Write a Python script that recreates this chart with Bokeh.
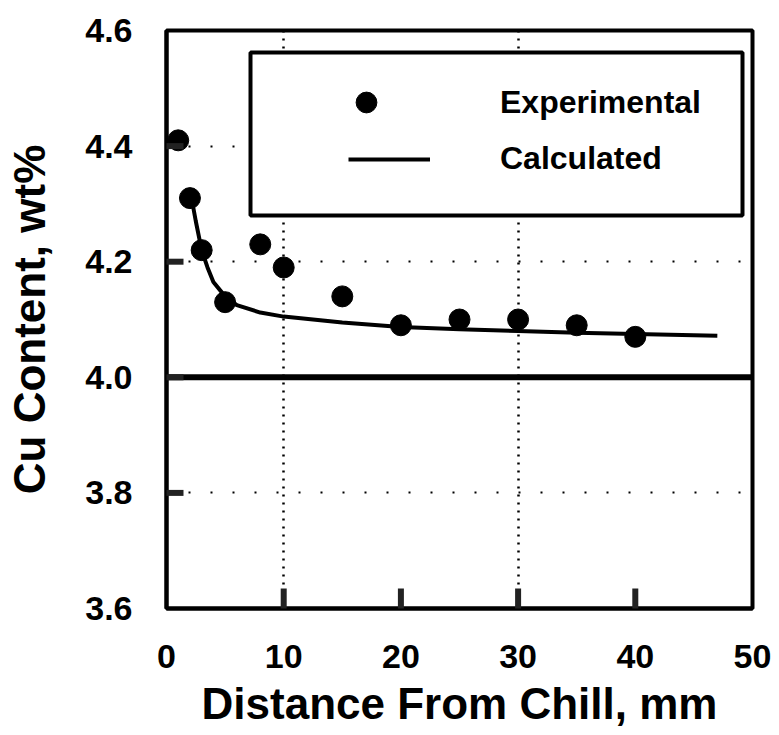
from bokeh.plotting import figure
from bokeh.models import (Range1d, FixedTicker, NumeralTickFormatter, Span, Grid,
                          Legend, LegendItem, BoxAnnotation, ColumnDataSource)
from bokeh.embed import file_html
from bokeh.resources import INLINE

# Measured Cu content along the casting
exp_distance = [1, 2, 3, 5, 8, 10, 15, 20, 25, 30, 35, 40]
exp_cu = [4.41, 4.31, 4.22, 4.13, 4.23, 4.19, 4.14, 4.09, 4.10, 4.10, 4.09, 4.07]

# Model prediction
calc_distance = [2, 2.5, 3, 3.5, 4, 5, 6, 8, 10, 15, 20, 25, 30, 35, 40, 47]
calc_cu = [4.325, 4.27, 4.22, 4.19, 4.165, 4.14, 4.125, 4.112, 4.105, 4.095,
           4.087, 4.083, 4.080, 4.077, 4.075, 4.072]

nominal_cu = 4.0
x_ticks = [0, 10, 20, 30, 40, 50]
y_ticks = [3.6, 3.8, 4.0, 4.2, 4.4, 4.6]
x_grid_at = [10, 30]
y_grid_at = [3.8, 4.2, 4.4]

X_MIN, X_MAX = x_ticks[0], x_ticks[-1]
Y_MIN, Y_MAX = y_ticks[0], y_ticks[-1]

FONT = "Liberation Sans"
WIDTH, HEIGHT = 779, 735
BORDER_L, BORDER_R, BORDER_T, BORDER_B = 166, 27, 30, 127
FRAME_W = WIDTH - BORDER_L - BORDER_R
FRAME_H = HEIGHT - BORDER_T - BORDER_B

p = figure(width=WIDTH, height=HEIGHT, output_backend="svg", toolbar_location=None,
           x_range=Range1d(X_MIN, X_MAX), y_range=Range1d(Y_MIN, Y_MAX),
           min_border_left=BORDER_L, min_border_right=BORDER_R,
           min_border_top=BORDER_T, min_border_bottom=BORDER_B)
p.background_fill_color = "white"
p.border_fill_color = "white"
p.outline_line_color = "black"
p.outline_line_width = 4

# default grids off, sparse dotted guide lines instead
p.xgrid.visible = False
p.ygrid.visible = False
p.add_layout(Grid(dimension=0, ticker=FixedTicker(ticks=x_grid_at),
                  grid_line_color="black", grid_line_width=2.5,
                  grid_line_dash="2 6"))
p.add_layout(Grid(dimension=1, ticker=FixedTicker(ticks=y_grid_at),
                  grid_line_color="black", grid_line_width=2,
                  grid_line_dash="2 20"))

for ax in (p.xaxis[0], p.yaxis[0]):
    ax.axis_line_color = "black"
    ax.axis_line_width = 4
    ax.major_tick_line_color = None
    ax.major_tick_in = 0
    ax.major_tick_out = 0
    ax.minor_tick_line_color = None
    ax.major_label_text_font = FONT
    ax.major_label_text_font_style = "bold"
    ax.major_label_text_font_size = "34px"
    ax.major_label_text_color = "black"
    ax.axis_label_text_font = FONT
    ax.axis_label_text_font_style = "bold"
    ax.axis_label_text_font_size = "44px"
    ax.axis_label_text_color = "black"

p.xaxis.ticker = FixedTicker(ticks=x_ticks)
p.xaxis.formatter = NumeralTickFormatter(format="0")
p.xaxis.major_label_standoff = 36
p.xaxis.axis_label = "Distance From Chill, mm"
p.xaxis.axis_label_standoff = 8

p.yaxis.ticker = FixedTicker(ticks=y_ticks)
p.yaxis.formatter = NumeralTickFormatter(format="0.0")
p.yaxis.major_label_standoff = 34
p.yaxis.axis_label = "Cu Content, wt%"
p.yaxis.axis_label_standoff = 28

# inward tick marks along the bottom and left edges of the frame
tick_len_y = 20 * (Y_MAX - Y_MIN) / FRAME_H
tick_len_x = 17 * (X_MAX - X_MIN) / FRAME_W
inner_x = x_ticks[1:-1]
inner_y = y_ticks[1:-1]
xt = ColumnDataSource(dict(x=inner_x, y0=[Y_MIN] * len(inner_x),
                           y1=[Y_MIN + tick_len_y] * len(inner_x)))
yt = ColumnDataSource(dict(y=inner_y, x0=[X_MIN] * len(inner_y),
                           x1=[X_MIN + tick_len_x] * len(inner_y)))
p.segment(x0="x", y0="y0", x1="x", y1="y1", source=xt,
          line_color="#222222", line_width=6, level="overlay")
p.segment(x0="x0", y0="y", x1="x1", y1="y", source=yt,
          line_color="#222222", line_width=6, level="overlay")

# nominal alloy composition
p.add_layout(Span(location=nominal_cu, dimension="width",
                  line_color="black", line_width=6))

calc = p.line(calc_distance, calc_cu, line_color="black", line_width=4)
exp = p.scatter(exp_distance, exp_cu, size=21, color="black")

# legend frame
p.add_layout(BoxAnnotation(left=250, right=742, top=52, bottom=215,
                           left_units="canvas", right_units="canvas",
                           top_units="canvas", bottom_units="canvas",
                           fill_color="white", fill_alpha=1.0,
                           line_color="black", line_width=4, line_alpha=1.0))

common = dict(padding=0, margin=0, spacing=0,
              background_fill_alpha=0, border_line_alpha=0,
              label_text_font=FONT, label_text_font_style="bold",
              label_text_font_size="32px", label_text_color="black")

leg_exp = Legend(items=[LegendItem(label="Experimental", renderers=[exp])],
                 location=(174, 480), glyph_width=52, glyph_height=52,
                 label_height=52, label_standoff=108, **common)
leg_calc = Legend(items=[LegendItem(label="Calculated", renderers=[calc])],
                  location=(182, 431), glyph_width=82, glyph_height=34,
                  label_height=34, label_standoff=70, **common)
p.add_layout(leg_exp)
p.add_layout(leg_calc)

open("out.html", "w").write(file_html(p, INLINE))
